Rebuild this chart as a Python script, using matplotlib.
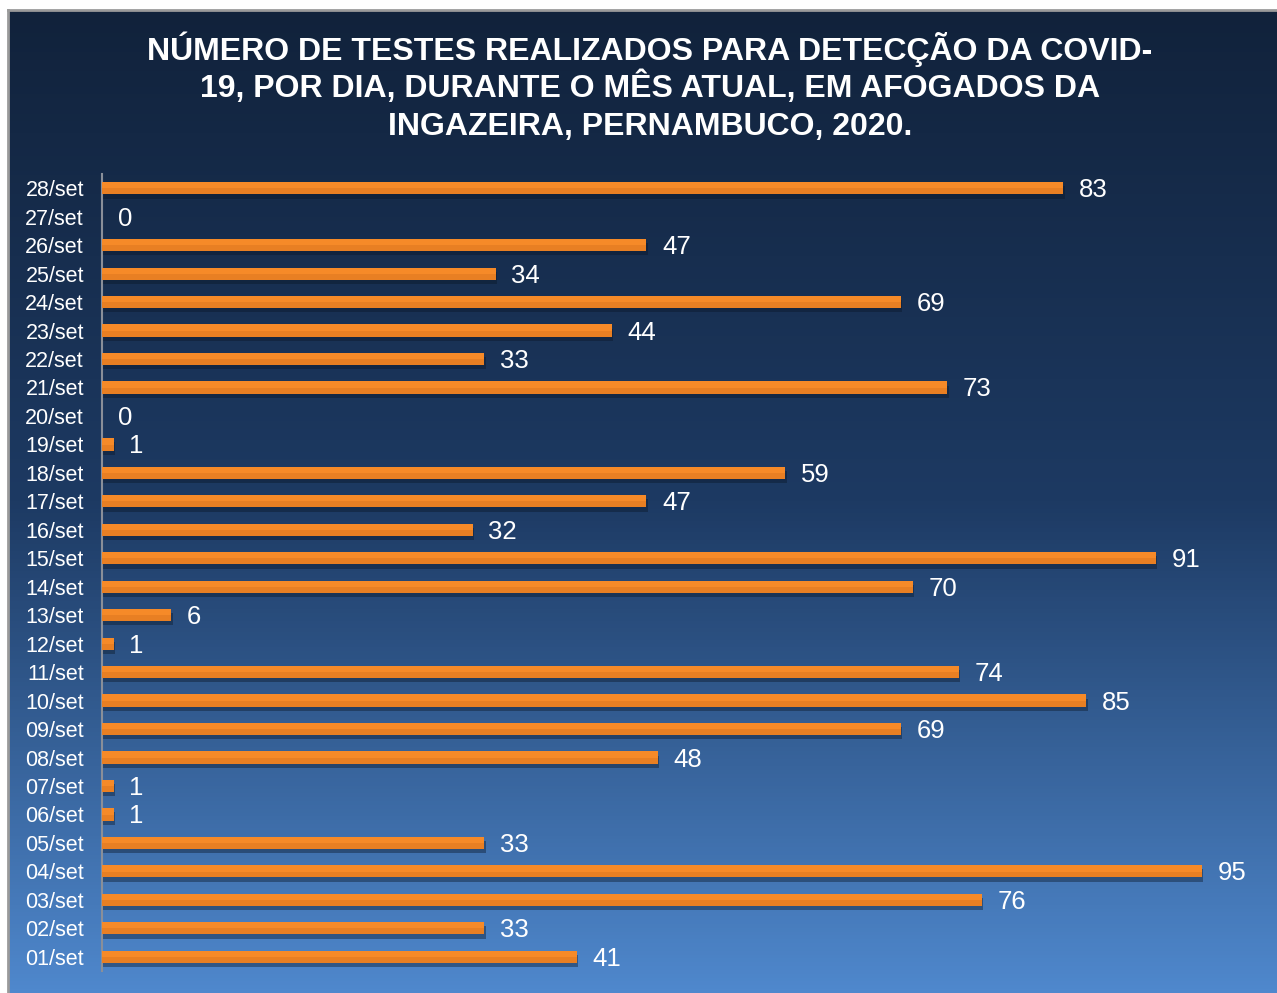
import matplotlib.pyplot as plt
import matplotlib.patheffects as pe
import numpy as np
from matplotlib.colors import LinearSegmentedColormap

plt.rcParams['font.family'] = ['Liberation Sans', 'DejaVu Sans']

# Data (01/set .. 28/set)
days = [f"{d:02d}/set" for d in range(1, 29)]
tests = [41, 33, 76, 95, 33, 1, 1, 48, 69, 85, 74, 1, 6, 70, 91,
         32, 47, 59, 1, 0, 73, 33, 44, 69, 34, 47, 0, 83]

title_lines = ["NÚMERO DE TESTES REALIZADOS PARA DETECÇÃO DA COVID-",
               "19, POR DIA, DURANTE O MÊS ATUAL, EM AFOGADOS DA",
               "INGAZEIRA, PERNAMBUCO, 2020."]

W, H = 1277, 993
fig = plt.figure(figsize=(W / 100, H / 100), dpi=100)
fig.patch.set_facecolor("white")

# background panel with vertical gradient
bg = fig.add_axes([8 / W, 0, 1 - 8 / W, 1 - 10 / H])
cmap = LinearSegmentedColormap.from_list("bg", ["#11223b", "#1d3a63", "#4f88cd"])
grad = np.linspace(0, 1, 256).reshape(-1, 1)
bg.imshow(grad, aspect="auto", cmap=cmap, extent=[0, 1, 0, 1], origin="upper")
bg.set_xlim(0, 1)
bg.set_ylim(0, 1)
bg.set_xticks([])
bg.set_yticks([])
for s in ["right", "bottom"]:
    bg.spines[s].set_visible(False)
for s in ["left", "top"]:
    bg.spines[s].set_color("#9a9a9a")
    bg.spines[s].set_linewidth(2)

# title, one line at a time so the spacing stays even
for i, line in enumerate(title_lines):
    fig.text(650 / W, 1 - (60 + 37.5 * i) / H, line, ha="center", va="baseline",
             color="white", fontsize=23, fontweight="bold")

ax = fig.add_axes([102 / W, 1 - 971 / H, (1260 - 102) / W, (971 - 174) / H])
ax.patch.set_alpha(0)
y = np.arange(len(days))
bars = ax.barh(y, tests, height=0.43, color="#f68a28", zorder=3)
for b in bars:
    b.set_path_effects([pe.SimplePatchShadow(offset=(1, -3), shadow_rgbFace="#0a1626", alpha=0.4),
                        pe.Normal()])
# darker lower half to mimic the bar shading
ax.barh(y - 0.11, tests, height=0.21, color="#d9721e", alpha=0.45, zorder=4)

for yi, v in zip(y, tests):
    ax.text(v + 1.35, yi - 0.07, str(v), va="center", ha="left", color="white", fontsize=18.5)

ax.set_xlim(0, 100)
ax.set_ylim(-0.5, len(days) - 0.5)
ax.set_yticks(y)
ax.set_yticklabels(days, color="white", fontsize=15.5)
ax.tick_params(axis="y", length=0, pad=13)
ax.set_xticks([])
for s in ["top", "right", "bottom"]:
    ax.spines[s].set_visible(False)
ax.spines["left"].set_color("#8a8f99")
ax.spines["left"].set_linewidth(1.5)

plt.savefig("out.png", dpi=100, facecolor=fig.get_facecolor())
